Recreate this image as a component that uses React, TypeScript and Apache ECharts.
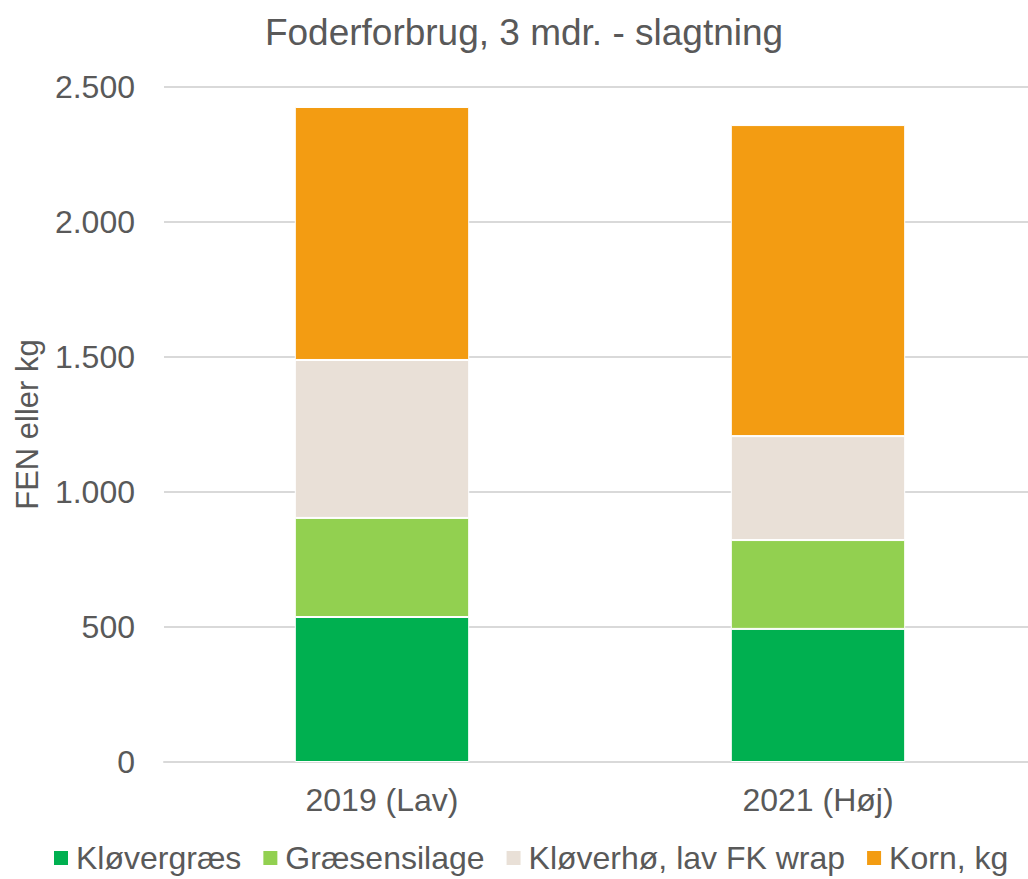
import React, { useEffect, useRef } from "react";
import * as echarts from "echarts";

const categories = ["2019 (Lav)", "2021 (Høj)"];
const seriesNames = ["Kløvergræs", "Græsensilage", "Kløverhø, lav FK wrap", "Korn, kg"];
const kloevergraes = [537, 493];
const graesensilage = [367, 329];
const kloverhoe = [585, 385];
const korn = [937, 1152];
const colors = ["#00B050", "#92D050", "#E9E0D7", "#F39C12"];

export default function App() {
  const ref = useRef<HTMLDivElement>(null);
  useEffect(() => {
    if (!ref.current) return;
    const chart = echarts.init(ref.current, undefined, { renderer: "svg" });
    const font = "'Liberation Sans', Arial, sans-serif";
    const data = [kloevergraes, graesensilage, kloverhoe, korn];
    chart.setOption({
      animation: false,
      textStyle: { fontFamily: font, color: "#595959" },
      title: {
        text: "Foderforbrug, 3 mdr. - slagtning",
        left: 519,
        textAlign: "center",
        top: 9,
        textStyle: { fontFamily: font, fontSize: 37, fontWeight: "normal", color: "#595959" },
      },
      legend: {
        top: 836,
        left: 47,
        padding: 5,
        itemWidth: 16,
        itemHeight: 16,
        itemGap: 20,
        icon: "rect",
        textStyle: { fontFamily: font, fontSize: 32, lineHeight: 34, color: "#595959", padding: [0, 0, 0, 2] },
        data: seriesNames,
      },
      grid: { left: 164, top: 87, bottom: 117, width: 872, containLabel: false },
      xAxis: {
        type: "category",
        data: categories,
        axisLine: { lineStyle: { color: "#D9D9D9", width: 2 } },
        axisTick: { show: false },
        axisLabel: { fontFamily: font, fontSize: 32, color: "#595959", margin: 22 },
      },
      yAxis: {
        type: "value",
        min: 0,
        max: 2500,
        interval: 500,
        name: "FEN eller kg",
        nameLocation: "middle",
        nameGap: 121,
        nameTextStyle: { fontFamily: font, fontSize: 31, color: "#595959" },
        axisLine: { show: false },
        axisTick: { show: false },
        splitLine: { lineStyle: { color: "#D9D9D9", width: 2 } },
        axisLabel: {
          fontFamily: font,
          fontSize: 32,
          color: "#595959",
          margin: 29,
          formatter: (v: number) => String(v).replace(/\B(?=(\d{3})+(?!\d))/g, "."),
        },
      },
      series: seriesNames.map((name, i) => ({
        name,
        type: "bar",
        stack: "total",
        barWidth: "40%",
        data: data[i],
        itemStyle: { color: colors[i], borderColor: "#ffffff", borderWidth: 1 },
      })),
    });
    return () => chart.dispose();
  }, []);
  return (
    <div style={{ width: 1028, height: 879, position: "absolute", left: 0, top: 0, overflow: "hidden" }}>
      <div ref={ref} style={{ width: 1040, height: 879 }} />
    </div>
  );
}
